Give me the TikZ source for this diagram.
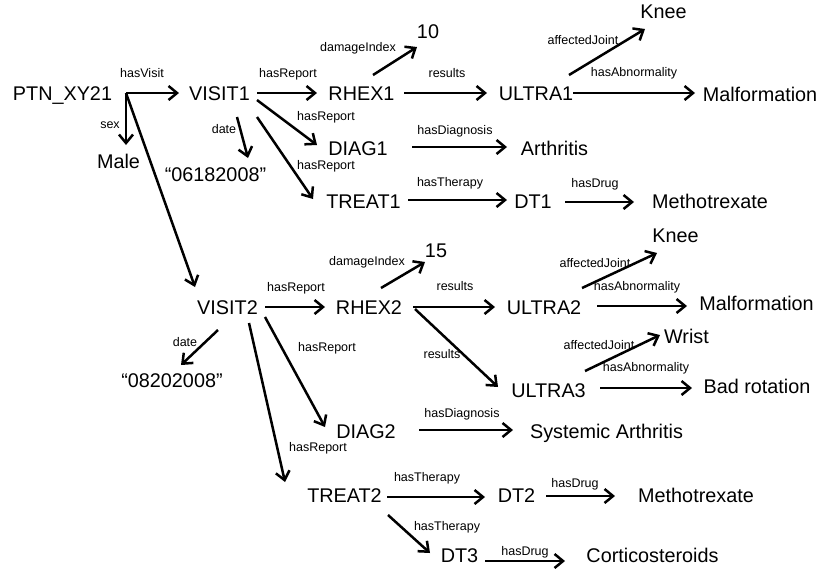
\documentclass[tikz,border=0pt]{standalone}
\usepackage{fontspec}
\setmainfont{Liberation Sans}
\usetikzlibrary{arrows.meta}
\tikzset{
  nd/.style={anchor=base, inner sep=0pt, font=\fontsize{19.8}{20}\selectfont},
  lab/.style={anchor=base, inner sep=0pt, font=\fontsize{12.5}{13}\selectfont},
  arr/.style={line width=2.5pt, -{Straight Barb[length=8.5pt,width=14pt]}},
  ln/.style={line width=2.5pt}
}
\begin{document}
\begin{tikzpicture}[x=1pt,y=-1pt]
\useasboundingbox (0,0) rectangle (821,574);
% main nodes
\node[nd] (ptn) at (62.5,100) {PTN\_XY21};
\node[nd] (visit1) at (219.5,100) {VISIT1};
\node[nd] (male) at (118.5,168) {Male};
\node[nd] (d1) at (215.5,181) {“06182008”};
\node[nd] (rhex1) at (361.5,100) {RHEX1};
\node[nd] (ten) at (428,38) {10};
\node[nd] (ultra1) at (536,100) {ULTRA1};
\node[nd] (knee1) at (663.5,18) {Knee};
\node[nd] (malf1) at (760,101) {Malformation};
\node[nd] (diag1) at (358,155) {DIAG1};
\node[nd] (arth) at (554.5,155) {Arthritis};
\node[nd] (treat1) at (363.5,208) {TREAT1};
\node[nd] (dt1) at (533,208) {DT1};
\node[nd] (meth1) at (710,208) {Methotrexate};
\node[nd] (visit2) at (227.5,314) {VISIT2};
\node[nd] (rhex2) at (369,314) {RHEX2};
\node[nd] (fifteen) at (436,257) {15};
\node[nd] (d2) at (172,387) {“08202008”};
\node[nd] (ultra2) at (544,314) {ULTRA2};
\node[nd] (knee2) at (675.5,242) {Knee};
\node[nd] (malf2) at (756.5,310) {Malformation};
\node[nd] (wrist) at (686.5,343) {Wrist};
\node[nd] (ultra3) at (548.5,397) {ULTRA3};
\node[nd] (badrot) at (757,393) {Bad rotation};
\node[nd] (diag2) at (366,438) {DIAG2};
\node[nd] (sysarth) at (606.5,438) {Systemic Arthritis};
\node[nd] (treat2) at (344.5,502) {TREAT2};
\node[nd] (dt2) at (516.5,502) {DT2};
\node[nd] (meth2) at (696,502) {Methotrexate};
\node[nd] (dt3) at (459.5,562) {DT3};
\node[nd] (cort) at (652.5,562) {Corticosteroids};
% connectors
\coordinate (hub) at ([shift={(63.5,-7)}]ptn.base);
\draw[arr] (hub) -- ([shift={(-40.5,-7)}]visit1.base);
\draw[arr] (hub) -- ([shift={(7.5,-23)}]male.base);
\draw[arr] (hub) -- ([shift={(-32.5,-27)}]visit2.base);
\draw[arr] ([shift={(37.5,-7)}]visit1.base) -- ([shift={(-44.5,-7)}]rhex1.base);
\draw[arr] ([shift={(37.5,0)}]visit1.base) -- ([shift={(-41,-10)}]diag1.base);
\draw[arr] ([shift={(37.5,17)}]visit1.base) -- ([shift={(-50.5,-9)}]treat1.base);
\draw[arr] ([shift={(17.5,17)}]visit1.base) -- ([shift={(32.5,-23)}]d1.base);
\draw[arr] ([shift={(11.5,-25)}]rhex1.base) -- ([shift={(-11,9)}]ten.base);
\draw[arr] ([shift={(42.5,-7)}]rhex1.base) -- ([shift={(-49,-7)}]ultra1.base);
\draw[arr] ([shift={(54,-8)}]diag1.base) -- ([shift={(-47.5,-8)}]arth.base);
\draw[arr] ([shift={(44.5,-8)}]treat1.base) -- ([shift={(-26,-8)}]dt1.base);
\draw[arr] ([shift={(33,-25)}]ultra1.base) -- ([shift={(-18.5,11)}]knee1.base);
\draw[arr] ([shift={(37,-7)}]ultra1.base) -- ([shift={(-65,-8)}]malf1.base);
\draw[arr] ([shift={(32,-6)}]dt1.base) -- ([shift={(-76,-6)}]meth1.base);
\draw[arr] ([shift={(37.5,-7)}]visit2.base) -- ([shift={(-44,-7)}]rhex2.base);
\draw[arr] ([shift={(-9.5,16)}]visit2.base) -- ([shift={(9,-22)}]d2.base);
\draw[arr] ([shift={(37.5,3)}]visit2.base) -- ([shift={(-41,-11)}]diag2.base);
\draw[arr] ([shift={(21.5,9)}]visit2.base) -- ([shift={(-59.5,-20)}]treat2.base);
\draw[arr] ([shift={(12,-26)}]rhex2.base) -- ([shift={(-11,5)}]fifteen.base);
\draw[arr] ([shift={(44,-7)}]rhex2.base) -- ([shift={(-49,-7)}]ultra2.base);
\draw[arr] ([shift={(46,-5)}]rhex2.base) -- ([shift={(-50.5,-10)}]ultra3.base);
\draw[arr] ([shift={(38,-26)}]ultra2.base) -- ([shift={(-18.5,11)}]knee2.base);
\draw[arr] ([shift={(53,-8)}]ultra2.base) -- ([shift={(-69.5,-4)}]malf2.base);
\draw[arr] ([shift={(36.5,-26)}]ultra3.base) -- ([shift={(-26.5,-8)}]wrist.base);
\draw[arr] ([shift={(51.5,-9)}]ultra3.base) -- ([shift={(-65,-5)}]badrot.base);
\draw[arr] ([shift={(53,-8)}]diag2.base) -- ([shift={(-93.5,-8)}]sysarth.base);
\draw[arr] ([shift={(42.5,-5)}]treat2.base) -- ([shift={(-31.5,-5)}]dt2.base);
\draw[arr] ([shift={(43.5,13)}]treat2.base) -- ([shift={(-29.5,-9)}]dt3.base);
\draw[arr] ([shift={(29.5,-6)}]dt2.base) -- ([shift={(-81,-6)}]meth2.base);
\draw[arr] ([shift={(25.5,-1)}]dt3.base) -- ([shift={(-87.5,-1)}]cort.base);
% labels
\node[lab] (l1) at (142,77) {hasVisit};
\node[lab] (l2) at (110,128) {sex};
\node[lab] (l3) at (288,77) {hasReport};
\node[lab] (l4) at (326,120) {hasReport};
\node[lab] (l5) at (326,169) {hasReport};
\node[lab] (l6) at (224,133) {date};
\node[lab] (l7) at (358,51) {damageIndex};
\node[lab] (l8) at (447,77) {results};
\node[lab] (l9) at (455,134) {hasDiagnosis};
\node[lab] (l10) at (450,186) {hasTherapy};
\node[lab] (l11) at (583,44) {affectedJoint};
\node[lab] (l12) at (634,76) {hasAbnormality};
\node[lab] (l13) at (595,187) {hasDrug};
\node[lab] (l14) at (296,291) {hasReport};
\node[lab] (l15) at (185,346) {date};
\node[lab] (l16) at (327,351) {hasReport};
\node[lab] (l17) at (318,451) {hasReport};
\node[lab] (l18) at (367,265) {damageIndex};
\node[lab] (l19) at (455,290) {results};
\node[lab] (l20) at (442,358) {results};
\node[lab] (l21) at (595,267) {affectedJoint};
\node[lab] (l22) at (637,290) {hasAbnormality};
\node[lab] (l23) at (599,349) {affectedJoint};
\node[lab] (l24) at (646,371) {hasAbnormality};
\node[lab] (l25) at (462,417) {hasDiagnosis};
\node[lab] (l26) at (427,481) {hasTherapy};
\node[lab] (l27) at (447,530) {hasTherapy};
\node[lab] (l28) at (575,487) {hasDrug};
\node[lab] (l29) at (525,555) {hasDrug};
\end{tikzpicture}
\end{document}
